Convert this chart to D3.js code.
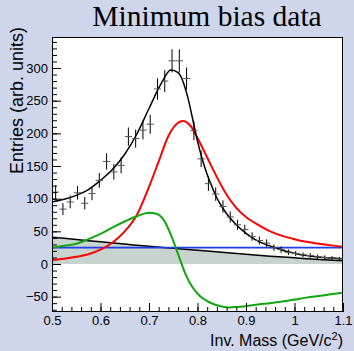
<!DOCTYPE html>
<html>
<head>
<meta charset="utf-8">
<script src="https://cdn.jsdelivr.net/npm/d3@7"></script>
<style>
  html, body { margin: 0; padding: 0; background: #cfd5ea; }
  svg { display: block; }
  .axis text { font-family: "Liberation Sans", Arial, sans-serif; font-size: 13px; fill: #000; }
  .axis line { stroke: #000; }
  .axis path { display: none; }
</style>
</head>
<body>
<svg width="354" height="351"></svg>
<script>
// measured points (bin centres, entries, errors)
var massBins = [0.5075, 0.5225, 0.5375, 0.5525, 0.5675, 0.5825, 0.5975, 0.6125, 0.6275, 0.6425,
                0.6575, 0.6725, 0.6875, 0.7025, 0.7175, 0.7325, 0.7475, 0.7625, 0.7775, 0.7925,
                0.8075, 0.8225, 0.8375, 0.8525, 0.8675, 0.8825, 0.8975, 0.9125, 0.9275, 0.9425,
                0.9575, 0.9725, 0.9875, 1.0025, 1.0175, 1.0325, 1.0475, 1.0625, 1.0775, 1.0925];
var entries = [110, 84, 95, 109, 93, 108, 128, 157, 141, 151,
               195, 192, 205, 214, 268, 280, 311, 311, 284, 204,
               161, 123, 107, 88, 72, 60, 53, 42, 36, 32,
               25, 22, 18, 16, 14, 13, 11, 10, 9, 8];
var errors = [10.5, 9.2, 9.7, 10.4, 9.6, 10.4, 11.3, 12.5, 11.9, 12.3,
              14, 13.9, 14.3, 14.6, 16.4, 16.7, 17.6, 17.6, 16.9, 14.3,
              12.7, 11.1, 10.3, 9.4, 8.5, 7.7, 7.3, 6.5, 6, 5.7,
              5, 4.7, 4.2, 4, 3.7, 3.6, 3.3, 3.2, 3, 2.8];
var binHalfWidth = 0.0075;

// fitted curves
var totalMass = [0.5, 0.525, 0.55, 0.575, 0.6, 0.625, 0.65, 0.675, 0.7, 0.725, 0.745, 0.76, 0.78, 0.79,
                 0.8, 0.81, 0.82, 0.83, 0.84, 0.85, 0.86, 0.87, 0.88, 0.89, 0.9, 0.92, 0.94, 0.96,
                 0.98, 1.0, 1.02, 1.04, 1.06, 1.08, 1.1];
var totalFit = [95, 99, 105, 114, 128, 145, 168, 199, 238, 276, 297, 293, 255, 222,
                188, 160, 137, 118, 101, 88, 77, 68, 60, 53, 47, 37, 30, 25,
                20, 16.5, 13.5, 11.5, 10, 9, 8];

var rhoMass = [0.5, 0.525, 0.55, 0.575, 0.6, 0.625, 0.65, 0.675, 0.7, 0.72, 0.74, 0.755, 0.77, 0.785,
               0.8, 0.82, 0.84, 0.86, 0.88, 0.9, 0.925, 0.95, 0.975, 1.0, 1.025, 1.05, 1.075, 1.1];
var rhoFit = [6, 8, 11, 15, 22, 33, 50, 75, 118, 157, 196, 213, 219, 212,
              193, 163, 133, 106, 86, 72, 60, 50, 43, 38, 34, 31, 28.5, 26.5];

var interfMass = [0.5, 0.525, 0.55, 0.575, 0.6, 0.625, 0.65, 0.675, 0.7, 0.715, 0.73, 0.745, 0.76,
                  0.775, 0.79, 0.805, 0.82, 0.835, 0.85, 0.865, 0.88, 0.9, 0.925, 0.95,
                  0.975, 1.0, 1.025, 1.05, 1.075, 1.1];
var interfFit = [25, 28, 31, 38, 46, 56, 65, 73, 78.5, 77, 68, 45, 15,
                 -15, -36, -49, -57, -62, -65, -66.5, -66, -64.5, -62, -60,
                 -57.5, -54.5, -51.5, -49, -46.5, -44];

var bkgMass = [0.5, 0.55, 0.6, 0.65, 0.7, 0.75, 0.8, 0.85, 0.9, 0.95, 1.0, 1.05, 1.1];
var bkgFit = [41, 37.5, 34, 30.5, 27, 24, 21, 18, 15, 12, 9.5, 7, 5];

var constLevel = 25;

var yTicks = [-50, 0, 50, 100, 150, 200, 250, 300];
var xTicks = [0.5, 0.6, 0.7, 0.8, 0.9, 1.0, 1.1];
var xTickLabels = ["0.5", "0.6", "0.7", "0.8", "0.9", "1", "1.1"];

var svg = d3.select("svg"),
    frame = {left: 52, top: 37, right: 343, bottom: 312};

var x = d3.scaleLinear().domain([0.5, 1.1]).range([frame.left, frame.right]),
    y = d3.scaleLinear().domain([-73.5, 347.5]).range([frame.bottom, frame.top]);

// title
svg.append("text")
    .attr("x", 207)
    .attr("y", 26)
    .attr("text-anchor", "middle")
    .style("font-family", "'Liberation Serif', 'DejaVu Serif', serif")
    .style("font-size", "29.5px")
    .text("Minimum bias data");

// plot area
svg.append("rect")
    .attr("x", frame.left)
    .attr("y", frame.top)
    .attr("width", frame.right - frame.left)
    .attr("height", frame.bottom - frame.top)
    .attr("fill", "#fff");

svg.append("clipPath")
    .attr("id", "clip")
  .append("rect")
    .attr("x", frame.left)
    .attr("y", frame.top)
    .attr("width", frame.right - frame.left)
    .attr("height", frame.bottom - frame.top);

var plot = svg.append("g").attr("clip-path", "url(#clip)");

function zip(xs, ys) { return xs.map(function(m, i) { return [m, ys[i]]; }); }

var line = d3.line()
    .x(function(d) { return x(d[0]); })
    .y(function(d) { return y(d[1]); })
    .curve(d3.curveMonotoneX);

// background under the peak
plot.append("path")
    .datum(zip(bkgMass, bkgFit))
    .attr("fill", "#c8d3d0")
    .attr("d", d3.area()
        .x(function(d) { return x(d[0]); })
        .y0(y(0))
        .y1(function(d) { return y(d[1]); })
        .curve(d3.curveMonotoneX));

plot.append("path")
    .datum(zip(bkgMass, bkgFit))
    .attr("fill", "none")
    .attr("stroke", "#000")
    .attr("stroke-width", 1.5)
    .attr("d", line);

// constant term
plot.append("line")
    .attr("x1", x(0.5))
    .attr("x2", x(1.1))
    .attr("y1", y(constLevel))
    .attr("y2", y(constLevel))
    .attr("stroke", "#1f3fe6")
    .attr("stroke-width", 1.6);

plot.append("path")
    .datum(zip(rhoMass, rhoFit))
    .attr("fill", "none")
    .attr("stroke", "#ff0000")
    .attr("stroke-width", 2)
    .attr("d", line);

plot.append("path")
    .datum(zip(interfMass, interfFit))
    .attr("fill", "none")
    .attr("stroke", "#0fa60f")
    .attr("stroke-width", 2)
    .attr("d", line);

plot.append("path")
    .datum(zip(totalMass, totalFit))
    .attr("fill", "none")
    .attr("stroke", "#000")
    .attr("stroke-width", 1.5)
    .attr("d", line);

// data points with error bars
var pts = plot.selectAll(".pt")
    .data(massBins.map(function(m, i) { return {m: m, v: entries[i], e: errors[i]}; }))
  .enter().append("g")
    .attr("class", "pt");

pts.append("line")
    .attr("x1", function(d) { return x(d.m); })
    .attr("x2", function(d) { return x(d.m); })
    .attr("y1", function(d) { return y(d.v - d.e); })
    .attr("y2", function(d) { return y(d.v + d.e); })
    .attr("stroke", "#000")
    .attr("stroke-width", 1);

pts.append("line")
    .attr("x1", function(d) { return x(d.m - binHalfWidth); })
    .attr("x2", function(d) { return x(d.m + binHalfWidth); })
    .attr("y1", function(d) { return y(d.v); })
    .attr("y2", function(d) { return y(d.v); })
    .attr("stroke", "#555")
    .attr("stroke-width", 1);

// axes, ticks pointing inward
svg.append("g")
    .attr("class", "axis")
    .attr("transform", "translate(" + frame.left + ",0)")
    .call(d3.axisLeft(y).tickValues(d3.range(-70, 341, 10)).tickSize(-5).tickFormat(""));

svg.append("g")
    .attr("class", "axis")
    .attr("transform", "translate(" + frame.left + ",0)")
    .call(d3.axisLeft(y).tickValues(yTicks).tickSize(-9).tickPadding(4));

svg.append("g")
    .attr("class", "axis")
    .attr("transform", "translate(0," + frame.bottom + ")")
    .call(d3.axisBottom(x).tickValues(d3.range(0.52, 1.1, 0.02)).tickSize(-5).tickFormat(""));

svg.append("g")
    .attr("class", "axis")
    .attr("transform", "translate(0," + frame.bottom + ")")
    .call(d3.axisBottom(x).tickValues(xTicks).tickSize(-9).tickPadding(4)
        .tickFormat(function(d, i) { return xTickLabels[i]; }));

svg.append("rect")
    .attr("x", frame.left + 0.5)
    .attr("y", frame.top + 0.5)
    .attr("width", frame.right - frame.left - 1)
    .attr("height", frame.bottom - frame.top - 1)
    .attr("fill", "none")
    .attr("stroke", "#000")
    .attr("stroke-width", 1);

// axis titles
svg.append("text")
    .attr("x", frame.right)
    .attr("y", 346)
    .attr("text-anchor", "end")
    .style("font-family", "'Liberation Sans', Arial, sans-serif")
    .style("font-size", "16px")
    .html("Inv. Mass (GeV/c<tspan dy='-6' font-size='11px'>2</tspan><tspan dy='6'>)</tspan>");

svg.append("text")
    .attr("transform", "translate(23,174) rotate(-90)")
    .attr("text-anchor", "start")
    .style("font-family", "'Liberation Sans', Arial, sans-serif")
    .style("font-size", "18px")
    .text("Entries (arb. units)");
</script>
</body>
</html>
